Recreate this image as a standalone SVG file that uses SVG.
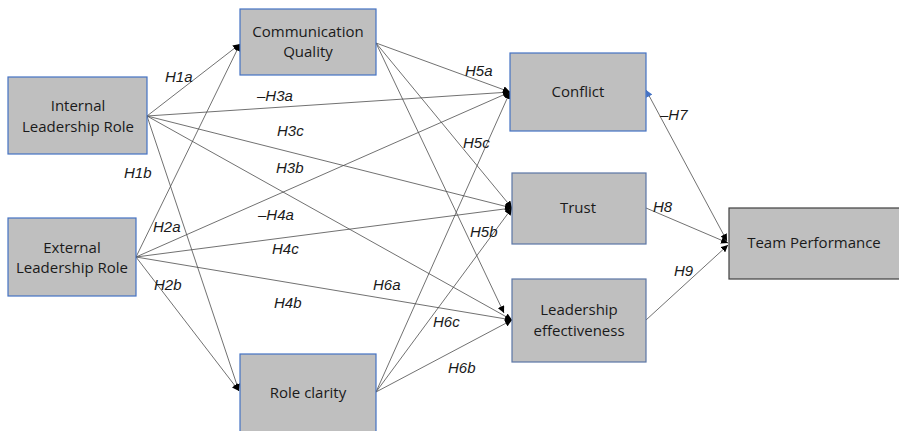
<svg xmlns="http://www.w3.org/2000/svg" width="899" height="431" viewBox="0 0 899 431">
  <style>
    .box { fill: #bfbfbf; stroke: #4472c4; stroke-width: 1.2; }
    .box-grey { fill: #bfbfbf; stroke: #5b76a6; stroke-width: 1.2; }
    .box-dark { fill: #bfbfbf; stroke: #404040; stroke-width: 1.2; }
    .node-text { font-family: "Open Sans", "Liberation Sans", sans-serif; font-size: 15px; fill: #1a1a1a; text-anchor: middle; }
    .edge { fill: none; stroke: #4d4d4d; stroke-width: 0.8; marker-end: url(#arrow); }
    .label { font-family: "Liberation Sans", Arial, sans-serif; font-size: 15px; font-style: italic; fill: #1a1a1a; }
  </style>
  <defs>
    <marker id="arrow" viewBox="0 0 10 10" refX="10" refY="5" markerWidth="7" markerHeight="7" markerUnits="userSpaceOnUse" orient="auto">
      <path d="M0,0 L10,5 L0,10 z" fill="#000"/>
    </marker>
    <marker id="arrow-blue" viewBox="0 0 10 10" refX="10" refY="5" markerWidth="7" markerHeight="7" markerUnits="userSpaceOnUse" orient="auto-start-reverse">
      <path d="M0,0 L10,5 L0,10 z" fill="#4472c4"/>
    </marker>
  </defs>

  <!-- connectors -->
  <g id="connectors">
    <!-- from Internal Leadership Role -->
    <line class="edge" x1="147" y1="116" x2="240" y2="44"/>
    <line class="edge" x1="147" y1="116" x2="239" y2="391"/>
    <line class="edge" x1="147" y1="116" x2="510" y2="92"/>
    <line class="edge" x1="147" y1="116" x2="512" y2="208"/>
    <line class="edge" x1="147" y1="116" x2="512" y2="320"/>
    <!-- from External Leadership Role -->
    <line class="edge" x1="136" y1="257" x2="240" y2="44"/>
    <line class="edge" x1="136" y1="257" x2="239" y2="391"/>
    <line class="edge" x1="136" y1="257" x2="510" y2="92"/>
    <line class="edge" x1="136" y1="257" x2="512" y2="208"/>
    <line class="edge" x1="136" y1="257" x2="512" y2="320"/>
    <!-- from Communication Quality -->
    <line class="edge" x1="376" y1="43" x2="510" y2="92"/>
    <line class="edge" x1="376" y1="43" x2="512" y2="208"/>
    <line class="edge" x1="376" y1="43" x2="504" y2="313"/>
    <!-- from Role clarity -->
    <line class="edge" x1="376" y1="392" x2="510" y2="92"/>
    <line class="edge" x1="376" y1="392" x2="512" y2="208"/>
    <line class="edge" x1="376" y1="392" x2="512" y2="320"/>
    <!-- into Team Performance -->
    <line class="edge" x1="646" y1="90" x2="727" y2="241" marker-start="url(#arrow-blue)"/>
    <line class="edge" x1="646" y1="208" x2="728" y2="243"/>
    <line class="edge" x1="646" y1="320" x2="728" y2="245"/>
  </g>

  <!-- hypothesis labels -->
  <g id="labels">
    <text class="label" x="165" y="82">H1a</text>
    <text class="label" x="124" y="178">H1b</text>
    <text class="label" x="153" y="232">H2a</text>
    <text class="label" x="154" y="290">H2b</text>
    <text class="label" x="257" y="101">–H3a</text>
    <text class="label" x="277" y="136">H3c</text>
    <text class="label" x="276" y="173">H3b</text>
    <text class="label" x="258" y="220">–H4a</text>
    <text class="label" x="272" y="254">H4c</text>
    <text class="label" x="274" y="308">H4b</text>
    <text class="label" x="465" y="76">H5a</text>
    <text class="label" x="463" y="148">H5c</text>
    <text class="label" x="470" y="237">H5b</text>
    <text class="label" x="373" y="290">H6a</text>
    <text class="label" x="433" y="327">H6c</text>
    <text class="label" x="448" y="373">H6b</text>
    <text class="label" x="660" y="120">–H7</text>
    <text class="label" x="653" y="212">H8</text>
    <text class="label" x="674" y="276">H9</text>
  </g>

  <!-- nodes -->
  <g id="internal-leadership-role">
    <rect class="box" x="8" y="77" width="139" height="77"/>
    <text class="node-text" x="78" y="111">Internal</text>
    <text class="node-text" x="78" y="132">Leadership Role</text>
  </g>
  <g id="external-leadership-role">
    <rect class="box" x="8" y="218" width="128" height="78"/>
    <text class="node-text" x="72" y="253">External</text>
    <text class="node-text" x="72" y="273">Leadership Role</text>
  </g>
  <g id="communication-quality">
    <rect class="box" x="240" y="9" width="136" height="66"/>
    <text class="node-text" x="308" y="37">Communication</text>
    <text class="node-text" x="308" y="57">Quality</text>
  </g>
  <g id="role-clarity">
    <rect class="box" x="240" y="354" width="136" height="90"/>
    <text class="node-text" x="308" y="398">Role clarity</text>
  </g>
  <g id="conflict">
    <rect class="box" x="510" y="53" width="136" height="78"/>
    <text class="node-text" x="578" y="97">Conflict</text>
  </g>
  <g id="trust">
    <rect class="box-grey" x="512" y="173" width="134" height="71"/>
    <text class="node-text" x="578" y="213">Trust</text>
  </g>
  <g id="leadership-effectiveness">
    <rect class="box-grey" x="512" y="279" width="134" height="83"/>
    <text class="node-text" x="579" y="315">Leadership</text>
    <text class="node-text" x="579" y="336">effectiveness</text>
  </g>
  <g id="team-performance">
    <rect class="box-dark" x="729" y="208" width="172" height="71"/>
    <text class="node-text" x="814" y="248">Team Performance</text>
  </g>
</svg>
